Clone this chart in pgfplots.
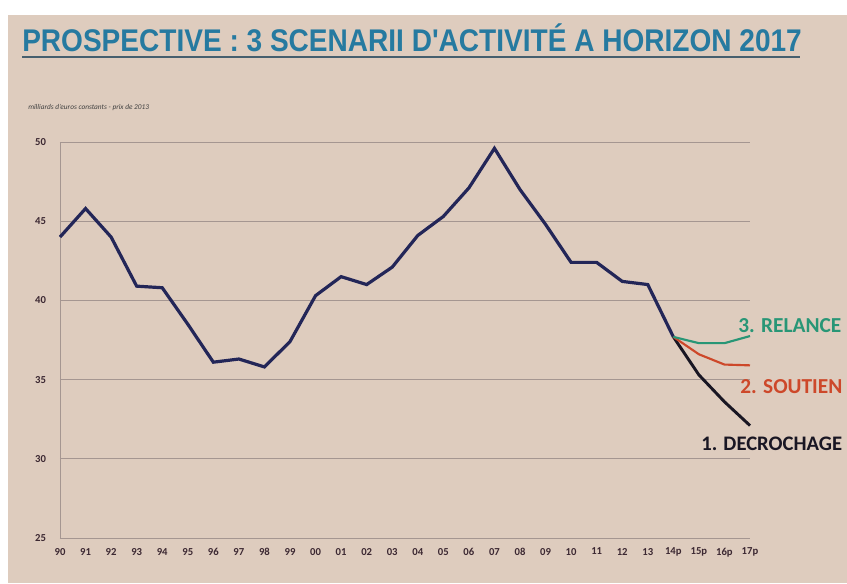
\documentclass[border=0pt]{standalone}
\usepackage{fontspec}
\setmainfont{Carlito}
\newfontfamily\titlefont[FakeStretch=0.895]{Liberation Sans}
\usepackage{pgfplots}
\pgfplotsset{compat=1.18}

\definecolor{paper}{RGB}{222,204,190}
\definecolor{titleblue}{RGB}{38,122,160}
\definecolor{titleline}{RGB}{70,95,110}
\definecolor{mainline}{RGB}{35,38,88}
\definecolor{blackline}{RGB}{25,22,35}
\definecolor{relance}{RGB}{40,150,118}
\definecolor{soutien}{RGB}{205,72,42}
\definecolor{ticktext}{RGB}{60,40,50}
\definecolor{gridc}{RGB}{165,150,145}

\begin{document}
\begin{tikzpicture}
\useasboundingbox (0,0) rectangle (635.25pt,-437.25pt);
\fill[white] (0,0) rectangle (635.25pt,-437.25pt);
\fill[paper] (6pt,-11pt) rectangle (635.25pt,-437.25pt);

\begin{axis}[
  at={(45pt,-403.5pt)}, anchor=south west,
  scale only axis, width=517.5pt, height=297pt,
  xmin=0, xmax=27, ymin=25, ymax=50,
  xtick={0,...,27},
  xticklabels={90,91,92,93,94,95,96,97,98,99,00,01,02,03,04,05,06,07,08,09,10,11,12,13,14p,15p,16p,17p},
  ytick={25,30,...,50},
  ymajorgrids,
  major grid style={draw=gridc, line width=0.6pt},
  axis x line=bottom, axis y line=left,
  axis line style={draw=gridc, line width=0.6pt, -},
  major tick length=0pt,
  tick label style={font=\bfseries\fontsize{8}{8}\selectfont, text=ticktext},
  /pgf/number format/assume math mode=true,
  yticklabel style={xshift=-7pt},
  xticklabel style={yshift=-4pt},
  clip=false,
]
\addplot[mainline, line width=2.4pt] coordinates {
 (0,44.0) (1,45.8) (2,44.0) (3,40.9) (4,40.8) (5,38.5) (6,36.1) (7,36.3)
 (8,35.8) (9,37.4) (10,40.3) (11,41.5) (12,41.0) (13,42.1) (14,44.1) (15,45.3)
 (16,47.1) (17,49.6) (18,47.0) (19,44.8) (20,42.4) (21,42.4) (22,41.2) (23,41.0)
 (24,37.7)};
\addplot[blackline, line width=2.2pt] coordinates {
 (24,37.7) (25,35.3) (26,33.6) (27,32.1)};
\addplot[soutien, line width=1.6pt] coordinates {
 (24,37.7) (25,36.6) (26,35.95) (27,35.9)};
\addplot[relance, line width=1.6pt] coordinates {
 (24,37.7) (25,37.3) (26,37.3) (27,37.75)};
\end{axis}

\begin{scope}[x=0.75pt,y=-0.75pt]
\node[anchor=base west, inner sep=0, text=titleblue,
  font=\titlefont\bfseries\fontsize{23.5}{24}\selectfont] at (22,51)
  {PROSPECTIVE : 3 SCENARII D'ACTIVITÉ A HORIZON 2017};
\draw[titleline, line width=1.1pt] (22,57) -- (800,57);
\node[anchor=west, inner sep=0, text=black!75,
  font=\itshape\fontsize{5.5}{6}\selectfont] at (28,108)
  {milliards d'euros constants - prix de 2013};
\node[anchor=base west, inner sep=0, text=relance,
  font=\bfseries\fontsize{16}{17}\selectfont] at (738,332) {3. RELANCE};
\node[anchor=base west, inner sep=0, text=soutien,
  font=\bfseries\fontsize{16}{17}\selectfont] at (740,393) {2. SOUTIEN};
\node[anchor=base west, inner sep=0, text=blackline,
  font=\bfseries\fontsize{15.5}{17}\selectfont] at (701,450) {1. DECROCHAGE};
\end{scope}
\end{tikzpicture}
\end{document}
